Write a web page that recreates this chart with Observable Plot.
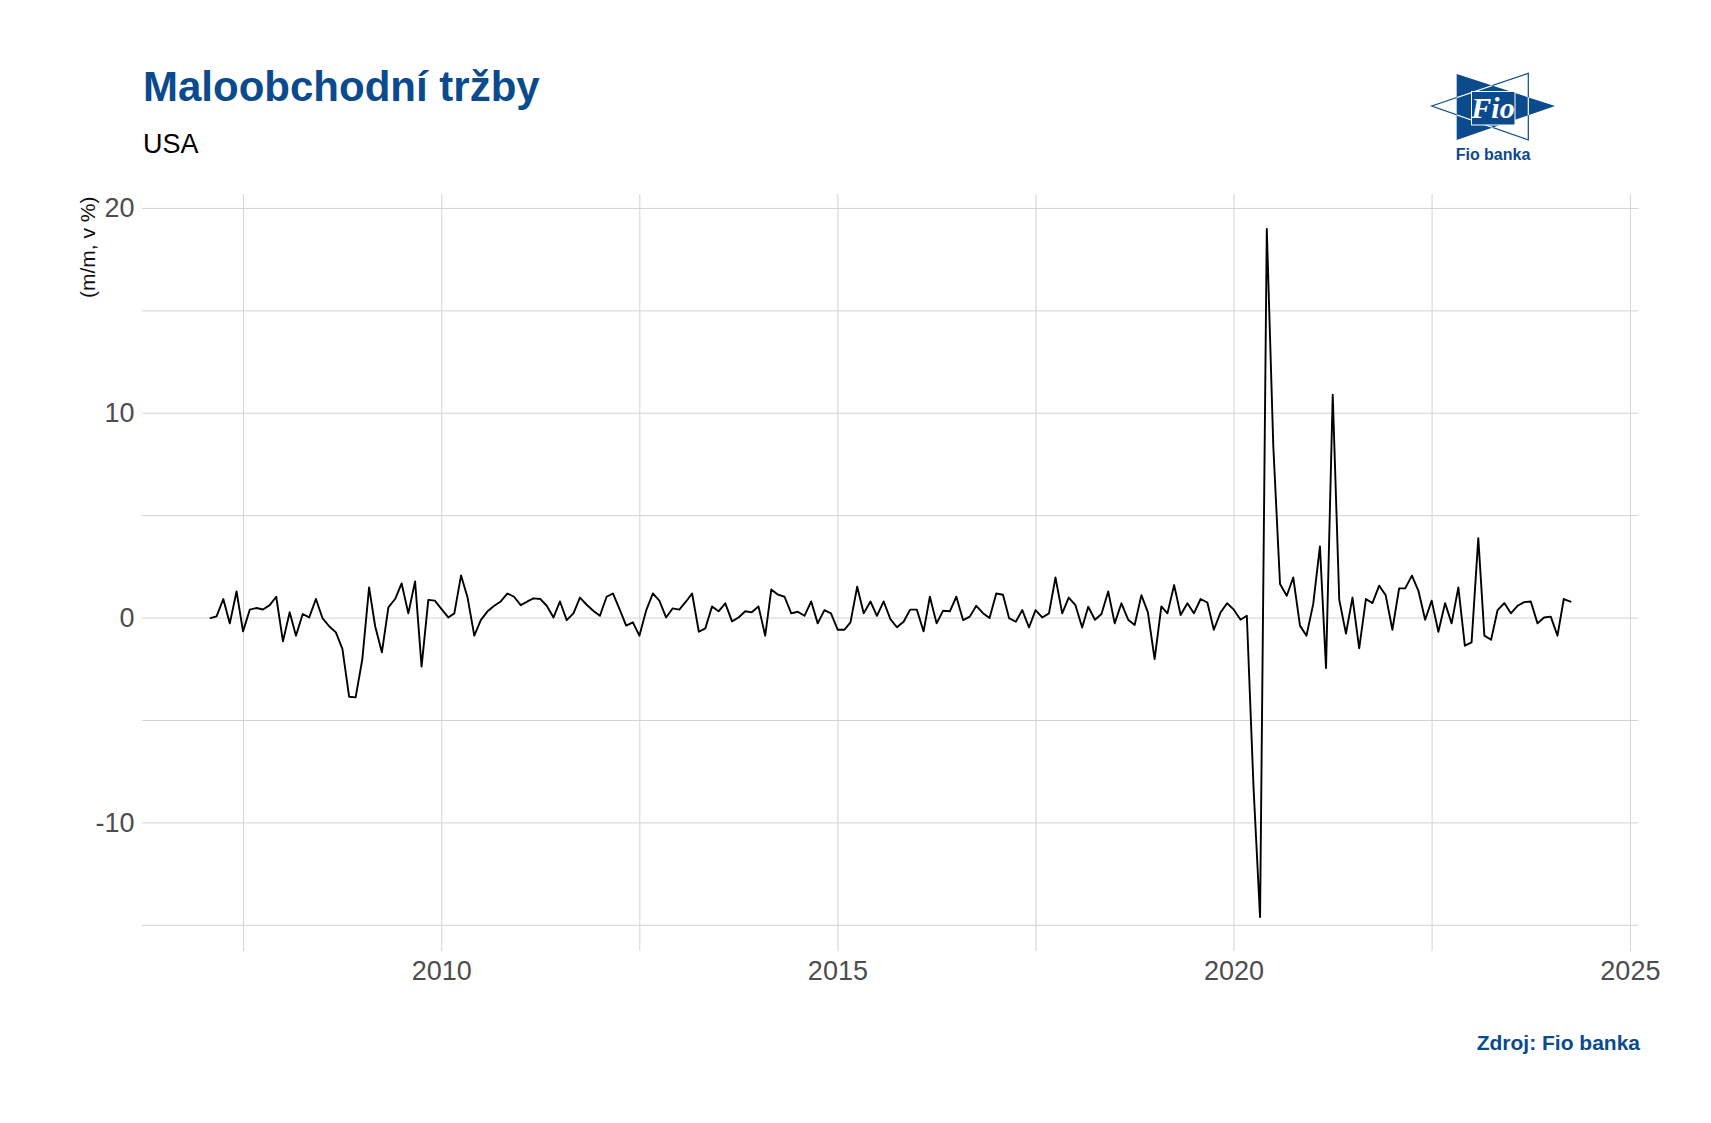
<!DOCTYPE html>
<html>
<head>
<meta charset="utf-8">
<script src="https://cdn.jsdelivr.net/npm/d3@7"></script>
<script src="https://cdn.jsdelivr.net/npm/@observablehq/plot@0.6"></script>
<style>
  body { margin: 0; background: #ffffff; font-family: "Liberation Sans", Arial, sans-serif; }
  #wrap { width: 1711px; height: 1123px; position: relative; overflow: hidden; background: #fff; }
  svg { display: block; }
</style>
</head>
<body>
<div id="wrap">
  <svg id="header" width="1711" height="170" font-family="Liberation Sans, Arial, sans-serif">
    <text x="143" y="101" font-size="42" font-weight="bold" fill="#0b4a8c">Maloobchodní tržby</text>
    <text x="143" y="153" font-size="27" fill="#000">USA</text>
    <defs>
      <clipPath id="blueTri"><polygon points="1456.7,74 1456.7,140 1555,106"/></clipPath>
    </defs>
    <polygon points="1456.7,74 1456.7,140 1555,106" fill="#0b4a8c"/>
    <polygon points="1431.7,106 1528.3,73.3 1528.3,140" fill="none" stroke="#0b4a8c" stroke-width="1.2"/>
    <polygon points="1431.7,106 1528.3,73.3 1528.3,140" fill="none" stroke="#fff" stroke-width="1.2" clip-path="url(#blueTri)"/>
    <rect x="1471.5" y="91.5" width="43.5" height="33.5" fill="#0b4a8c" stroke="#fff" stroke-width="1"/>
    <text x="1493" y="118" text-anchor="middle" fill="#fff" font-family="Liberation Serif, serif" font-style="italic" font-weight="bold" font-size="30">Fio</text>
    <text x="1493" y="160" text-anchor="middle" fill="#0b4a8c" font-weight="bold" font-size="16">Fio banka</text>
  </svg>
  <div id="chart"></div>
  <svg id="footer" width="1711" height="123" font-family="Liberation Sans, Arial, sans-serif">
    <text x="1640" y="50" text-anchor="end" font-size="21" font-weight="bold" fill="#0b4a8c">Zdroj: Fio banka</text>
  </svg>
</div>
<script>
// Month-on-month change of US retail sales (%), Jan 2007 – Mar 2024
const momChange = [
  0.0, 0.08, 0.93, -0.26, 1.30, -0.65, 0.41, 0.49, 0.42, 0.63, 1.04, -1.14,
  0.28, -0.86, 0.20, 0.03, 0.93, 0.0, -0.4, -0.7, -1.5, -3.84, -3.87, -2.0,
  1.5, -0.4, -1.67, 0.52, 0.93, 1.69, 0.23, 1.79, -2.37, 0.89, 0.85, 0.44,
  0.03, 0.23, 2.08, 1.0, -0.86, -0.1, 0.33, 0.6, 0.81, 1.2, 1.04, 0.63,
  0.81, 0.96, 0.93, 0.6, 0.03, 0.81, -0.1, 0.23, 1.0, 0.65, 0.36, 0.11,
  1.04, 1.2, 0.42, -0.37, -0.21, -0.86, 0.36, 1.2, 0.85, 0.03, 0.47, 0.41,
  0.81, 1.2, -0.67, -0.5, 0.57, 0.33, 0.72, -0.16, 0.03, 0.33, 0.28, 0.57,
  -0.86, 1.4, 1.14, 1.04, 0.23, 0.31, 0.11, 0.81, -0.26, 0.39, 0.23, -0.57,
  -0.57, -0.21, 1.53, 0.23, 0.81, 0.11, 0.81, -0.05, -0.45, -0.18, 0.41, 0.41,
  -0.65, 1.04, -0.26, 0.36, 0.33, 1.04, -0.1, 0.07, 0.6, 0.24, 0.0, 1.2,
  1.14, 0.0, -0.18, 0.39, -0.46, 0.39, 0.03, 0.23, 1.98, 0.23, 1.0, 0.63,
  -0.46, 0.55, -0.08, 0.2, 1.3, -0.26, 0.72, -0.08, -0.34, 1.12, 0.28, -2.0,
  0.57, 0.23, 1.61, 0.15, 0.72, 0.23, 0.93, 0.76, -0.57, 0.28, 0.72, 0.41,
  -0.08, 0.11, -8.3, -14.6, 19.0, 8.4, 1.66, 1.09, 1.98, -0.37, -0.86, 0.68,
  3.5, -2.44, 10.9, 0.9, -0.76, 1.0, -1.48, 0.93, 0.73, 1.58, 1.12, -0.57,
  1.45, 1.45, 2.07, 1.33, -0.08, 0.85, -0.67, 0.73, -0.26, 1.5, -1.35, -1.19,
  3.9, -0.86, -1.06, 0.39, 0.73, 0.23, 0.6, 0.78, 0.81, -0.26, 0.03, 0.07,
  -0.86, 0.93, 0.8
];
const firstMonth = [2007, 1];   // values dated at the end of each month, starting January 2007
const yTickValues = [-10, 0, 10, 20];
const yMinorValues = [-15, -5, 5, 15];
const xTickYears = [2010, 2015, 2020, 2025];
const xMinorYears = [2007, 2012, 2017, 2022]; // mid-year minor grid
const yAxisTitle = "(m/m, v %)";

const monthStarts = d3.utcMonth.range(new Date(Date.UTC(firstMonth[0], firstMonth[1], 1)),
  d3.utcMonth.offset(new Date(Date.UTC(firstMonth[0], firstMonth[1], 1)), momChange.length));
const dates = monthStarts.map(d => d3.utcDay.offset(d, -1));
const data = momChange.map((v, i) => ({date: dates[i], value: v}));

const xExt = d3.extent(dates);
const xSpan = xExt[1] - xExt[0];
const xDomain = [new Date(+xExt[0] - 0.05 * xSpan), new Date(+xExt[1] + 0.05 * xSpan)];
const yExt = d3.extent(momChange);
const ySpan = yExt[1] - yExt[0];
const yDomain = [yExt[0] - 0.05 * ySpan, yExt[1] + 0.05 * ySpan];

const xMajor = xTickYears.map(y => new Date(Date.UTC(y, 0, 1)));
const xMinor = xMinorYears.map(y => new Date(Date.UTC(y, 6, 2)));
const gridColor = "#d2d2d2";

const chart = Plot.plot({
  width: 1711,
  height: 830,
  marginLeft: 142,
  marginRight: 73,
  marginTop: 24,
  marginBottom: 49,
  style: {fontFamily: "Liberation Sans, Arial, sans-serif", fontSize: "27px", color: "#4d4d4d", background: "#ffffff"},
  x: {type: "utc", domain: xDomain, ticks: xMajor, tickFormat: d3.utcFormat("%Y"), tickSize: 0, tickPadding: 9, label: null},
  y: {domain: yDomain, ticks: yTickValues, tickFormat: d => String(d), tickSize: 0, tickPadding: 8, label: null},
  marks: [
    Plot.ruleY(yTickValues.concat(yMinorValues), {stroke: gridColor, strokeWidth: 1}),
    Plot.ruleX(xMajor.concat(xMinor), {stroke: gridColor, strokeWidth: 1}),
    Plot.lineY(data, {x: "date", y: "value", stroke: "#000000", strokeWidth: 1.9}),
    Plot.text([yAxisTitle], {text: d => d, frameAnchor: "top-left", rotate: -90, textAnchor: "end", dx: -62, dy: 2, fontSize: 21, fill: "#111111"})
  ]
});
document.getElementById("chart").appendChild(chart);
</script>
</body>
</html>
